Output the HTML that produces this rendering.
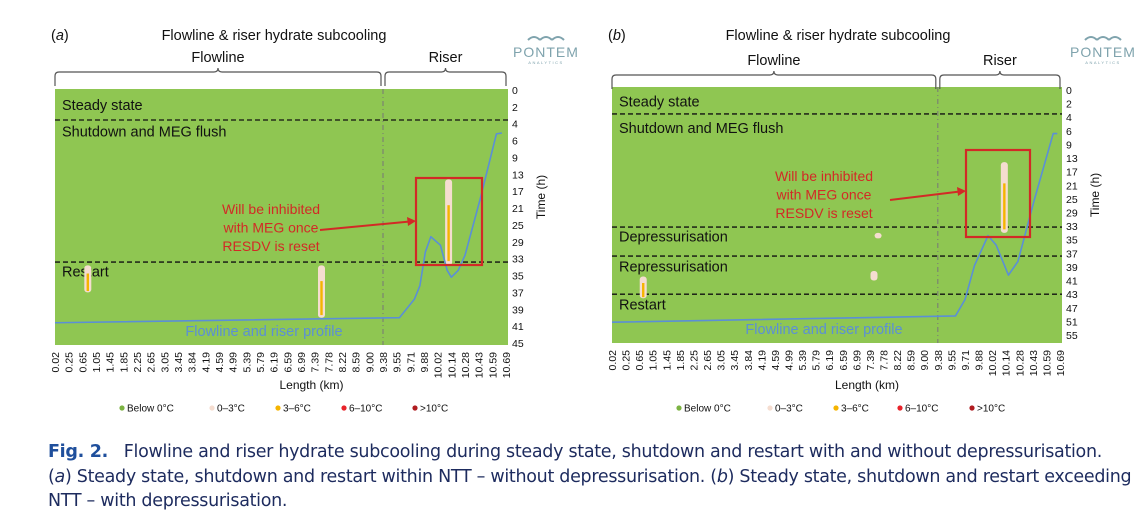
<!DOCTYPE html>
<html><head><meta charset="utf-8"><style>
body{margin:0;background:#fff;width:1147px;height:526px;overflow:hidden;font-family:"Liberation Sans",sans-serif}
svg{position:absolute;left:0;top:0}
.cap{position:absolute;left:48px;top:440px;width:1100px;white-space:nowrap;font-size:17.5px;line-height:24.5px;color:#1d2b5e;font-family:"DejaVu Sans","Liberation Sans",sans-serif;letter-spacing:-0.3px}
.cap b{color:#1f4f9c}
</style></head><body>
<svg id="chart" width="1147" height="430"></svg>
<div class="cap"><b>Fig. 2.</b>&nbsp;&nbsp; Flowline and riser hydrate subcooling during steady state, shutdown and restart with and without depressurisation.<br>(<i>a</i>) Steady state, shutdown and restart within NTT – without depressurisation. (<i>b</i>) Steady state, shutdown and restart exceeding<br>NTT – with depressurisation.</div>
<script>
const xCats=["0.02","0.25","0.65","1.05","1.45","1.85","2.25","2.65","3.05","3.45","3.84","4.19","4.59","4.99","5.39","5.79","6.19","6.59","6.99","7.39","7.78","8.22","8.59","9.00","9.38","9.55","9.71","9.88","10.02","10.14","10.28","10.43","10.59","10.69"];
const timeTicksA=["0","2","4","6","9","13","17","21","25","29","33","35","37","39","41","45"];
const timeTicksB=["0","2","4","6","9","13","17","21","25","29","33","35","37","39","41","43","47","51","55"];
// profile: [category index, time-tick index]
const profileA=[[0,13.8],[25.2,13.5],[26.3,12.4],[26.7,11.6],[27.1,9.6],[27.5,8.7],[28.2,9.2],[28.7,10.7],[29.0,11.1],[29.5,10.7],[30,9.8],[31.1,6.5],[32.3,2.6],[32.7,2.55]];
const profileB=[[0,17.06],[25.3,16.6],[26,15.4],[26.7,12.9],[27.7,10.7],[28.3,11.4],[29.2,13.6],[29.9,12.6],[31.1,8.1],[32.5,3.2],[32.8,3.2]];
// hydrate spots: [category index, start tick idx, end tick idx, core(1=3-6C present)]
const spotsA=[[28.8,5.3,10.4,1],[19.5,10.4,13.5,1],[2.4,10.4,12.0,1]];
const spotsB=[[28.9,5.3,10.5,1],[19.6,10.5,10.9,0],[19.3,13.3,14.0,0],[2.3,13.7,15.3,1]];
const phasesA=[1.78,10.2];
const phasesB=[1.76,10.07,12.2,15.0];
const phaseLabelsA=[["Steady state",0.9],["Shutdown and MEG flush",2.45],["Restart",10.75]];
const phaseLabelsB=[["Steady state",0.85],["Shutdown and MEG flush",2.8],["Depressurisation",10.75],["Repressurisation",12.95],["Restart",15.75]];
const legendItems=[["Below 0°C","#7cb342"],["0–3°C","#f5ddd0"],["3–6°C","#f5b400"],["6–10°C","#e8232a"],[">10°C","#b01c20"]];

const svg=document.getElementById('chart');const NS='http://www.w3.org/2000/svg';
function el(t,a,p){const e=document.createElementNS(NS,t);for(const k in a)e.setAttribute(k,a[k]);(p||svg).appendChild(e);return e;}
function txt(s,a,p){const e=el('text',a,p);e.textContent=s;return e;}
function panel(o){
 const g=el('g',{});
 const n=xCats.length, X=i=>o.x0+(i)*(o.x1-o.x0)/(n-1), T=o.ticks, Y=t=>o.y0+t*(o.yb-o.y0)/(T.length-1);
 const bg=el('rect',{x:o.x0,y:o.top,width:o.pr-o.x0,height:o.bot-o.top,fill:'#8fc652'},g);
 
 const vd=el('line',{x1:X(24),x2:X(24),y1:o.top,y2:o.bot,stroke:'#777','stroke-dasharray':'5,3,1,3','stroke-width':1},g);
 
 o.phases.forEach(p=>{const l=el('line',{x1:o.x0,x2:o.pr,y1:Y(p),y2:Y(p),stroke:'#111','stroke-dasharray':'5,3','stroke-width':1.3},g);
  });
 o.plabels.forEach(([s,t])=>{const e=txt(s,{x:o.x0+7,y:Y(t)+5,'font-size':14.5,fill:'#111'},g);
  });
 o.spots.forEach(([c,a,b,core])=>{const x=X(c),ya=Y(a),yb=Y(b);
  const s=el('rect',{x:x-3.5,y:ya,width:7,height:yb-ya,rx:3,fill:'#f5ddd0'},g);
  
  if(core){const c2=el('rect',{x:x-1.2,y:ya+(yb-ya)*0.3,width:2.4,height:(yb-ya)*0.65,fill:'#f5b400'},g);
   }});
 const pl=el('polyline',{points:o.profile.map(([c,t])=>X(c)+','+Y(t)).join(' '),fill:'none',stroke:'#5b8fd6','stroke-width':1.6,'stroke-linejoin':'round'},g);
 
 const plb=txt('Flowline and riser profile',{x:o.profLbl,y:o.bot-9,'font-size':14.5,fill:'#5b8fd6','text-anchor':'middle'},g);
 
 const rb=el('rect',{x:o.box[0],y:o.box[1],width:o.box[2],height:o.box[3],fill:'none',stroke:'#d22a26','stroke-width':2.2},g);
 
 const ar=el('line',{x1:o.arrow[0],y1:o.arrow[1],x2:o.arrow[2]-6,y2:o.arrow[3]+0.5,stroke:'#d22a26','stroke-width':2},g);
 
 const ah=el('polygon',{points:`${o.arrow[2]},${o.arrow[3]} ${o.arrow[2]-9},${o.arrow[3]-4} ${o.arrow[2]-8},${o.arrow[3]+5}`,fill:'#d22a26'},g);
 
 ["Will be inhibited","with MEG once","RESDV is reset"].forEach((s,i)=>{const e=txt(s,{x:o.note[0],y:o.note[1]+i*18.5,'font-size':14,fill:'#d22a26','text-anchor':'middle'},g);
  });
 T.forEach((s,i)=>{const e=txt(s,{x:o.pr+4,y:Y(i)+4,'font-size':10.5,fill:'#111'},g);
  });
 const tt=txt('Time (h)',{x:0,y:0,'font-size':12,fill:'#111','text-anchor':'middle',transform:`translate(${o.pr+37},${(o.top+o.bot)/2-20}) rotate(-90)`},g);
 
 xCats.forEach((s,i)=>{const e=txt(s,{x:0,y:0,'font-size':10.5,fill:'#111','text-anchor':'end',transform:`translate(${X(i)+4},${o.bot+7}) rotate(-90)`},g);
  });
 const xt=txt('Length (km)',{x:(o.x0+o.pr)/2+30,y:389,'font-size':12,fill:'#111','text-anchor':'middle'},g);
 
 legendItems.forEach(([s,c],i)=>{const lx=o.leg[i];const d=el('circle',{cx:lx,cy:408,r:2.6,fill:c},g);
  
  const e=txt(s,{x:lx+5,y:411.5,'font-size':10,fill:'#111'},g);});
 const lt=txt('('+o.id+')',{x:o.x0-4,y:40,'font-size':14.5,fill:'#111'},g);lt.innerHTML='(<tspan font-style="italic">'+o.id+'</tspan>)';
 
 const ti=txt('Flowline & riser hydrate subcooling',{x:o.title,y:40,'font-size':14.5,fill:'#111','text-anchor':'middle'},g);
 
 function brace(a,b,y,label,ly){const m=(a+b)/2;const p=el('path',{d:`M${a},${y+18} L${a},${y+8} Q${a},${y+4} ${a+4},${y+4} L${m-4},${y+4} Q${m},${y+4} ${m},${y} Q${m},${y+4} ${m+4},${y+4} L${b-4},${y+4} Q${b},${y+4} ${b},${y+8} L${b},${y+18}`,fill:'none',stroke:'#555','stroke-width':1.2},g);
  
  const e=txt(label,{x:m,y:ly,'font-size':14.5,fill:'#111','text-anchor':'middle'},g);}
 brace(o.x0,X(24)-2,o.braceY,'Flowline',o.braceLy);brace(X(24)+2,o.pr-2,o.braceY,'Riser',o.braceLy);
 const lg=el('g',{},g);
 el('path',{d:`M${o.logo-18},40 q6,-6 12,0 M${o.logo-6},40 q6,-6 12,0 M${o.logo+6},40 q6,-6 12,0`,fill:'none',stroke:'#7fa3ad','stroke-width':2},lg);
 txt('PONTEM',{x:o.logo,y:57,'font-size':14,fill:'#7fa3ad','text-anchor':'middle','letter-spacing':1},lg);
 txt('ANALYTICS',{x:o.logo,y:64,'font-size':4,fill:'#7fa3ad','text-anchor':'middle','letter-spacing':1.5},lg);
}
panel({id:'a',x0:55,x1:506,pr:508,top:89,bot:345,y0:90,yb:343,ticks:timeTicksA,phases:phasesA,plabels:phaseLabelsA,spots:spotsA,profile:profileA,profLbl:264,
 box:[416,178,66,87],arrow:[320,230,416,221],note:[271,214],leg:[122,212,278,344,415],title:274,braceY:68,braceLy:62,logo:546});
panel({id:'b',x0:612,x1:1060,pr:1062,top:87,bot:343,y0:90,yb:335,ticks:timeTicksB,phases:phasesB,plabels:phaseLabelsB,spots:spotsB,profile:profileB,profLbl:824,
 box:[966,150,64,87],arrow:[890,200,966,191],note:[824,181],leg:[679,770,836,900,972],title:838,braceY:71,braceLy:65,logo:1103});
</script>
</body></html>
